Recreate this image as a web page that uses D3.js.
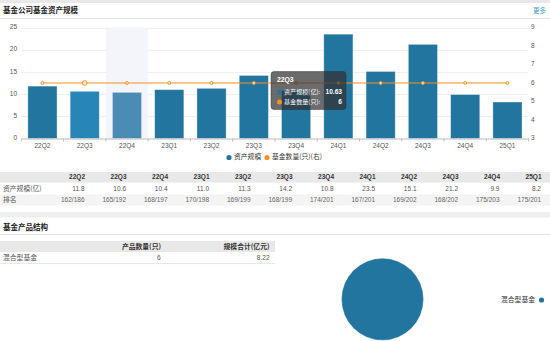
<!DOCTYPE html>
<html>
<head>
<meta charset="utf-8">
<script src="https://cdn.jsdelivr.net/npm/d3@7"></script>
<style>
  html, body { margin: 0; padding: 0; background: #fff; }
  svg { display: block; font-family: "Liberation Sans", "Noto Sans CJK SC", sans-serif; }
</style>
</head>
<body>
<svg id="chart" width="550" height="341"></svg>
<script>
// Quarterly fund-company data
const quarters = ["22Q2", "22Q3", "22Q4", "23Q1", "23Q2", "23Q3", "23Q4", "24Q1", "24Q2", "24Q3", "24Q4", "25Q1"];
const assetScale = [11.8, 10.63, 10.4, 11.0, 11.3, 14.2, 10.8, 23.5, 15.1, 21.2, 9.9, 8.22];
const fundCount = [6, 6, 6, 6, 6, 6, 6, 6, 6, 6, 6, 6];
const rankLabels = ["162/186", "165/192", "168/197", "170/198", "169/199", "168/199", "174/201", "167/201", "169/202", "168/202", "175/203", "175/201"];
const leftTicks = [0, 5, 10, 15, 20, 25];
const rightTicks = [3, 4, 5, 6, 7, 8, 9];

// Product structure
const productTypes = ["混合型基金"];
const productCounts = [6];
const productTotals = [8.22];

const BLUE = "#22759f";
const ORANGE = "#f5921e";
const CJK = "'Noto Sans CJK SC', 'Liberation Sans', sans-serif";

const svg = d3.select("#chart");

// page chrome
svg.append("rect").attr("x", 0).attr("y", 0).attr("width", 550).attr("height", 3).attr("fill", "#e8e8e8");
svg.append("text").attr("x", 3).attr("y", 11).attr("dominant-baseline", "middle")
  .attr("font-family", CJK).attr("font-size", 7.5).attr("font-weight", "bold").attr("fill", "#222")
  .text("基金公司基金资产规模");
svg.append("text").attr("x", 546).attr("y", 11).attr("dominant-baseline", "middle").attr("text-anchor", "end")
  .attr("font-family", CJK).attr("font-size", 6.5).attr("fill", "#3a9cc8").text("更多");
svg.append("line").attr("x1", 0).attr("x2", 550).attr("y1", 18.5).attr("y2", 18.5).attr("stroke", "#e3e3e3");

// scales
const x = d3.scaleBand().domain(quarters).range([21.3, 528.6]).paddingInner(0.31).paddingOuter(0.155);
const yL = d3.scaleLinear().domain([0, 25]).range([138.5, 27.5]);
const yR = d3.scaleLinear().domain([3, 9]).range([138.5, 27.5]);

const plot = svg.append("g");

// horizontal grid
plot.selectAll("line.grid").data(leftTicks.slice(1)).join("line")
  .attr("x1", 21.3).attr("x2", 528.6)
  .attr("y1", d => Math.round(yL(d)) + 0.5).attr("y2", d => Math.round(yL(d)) + 0.5)
  .attr("stroke", "#f0f0f0");

// axis pointer shadow
const step = x.step();
plot.append("rect")
  .attr("x", x("22Q4") + x.bandwidth() / 2 - step / 2).attr("y", yL(25))
  .attr("width", step).attr("height", yL(0) - yL(25))
  .attr("fill", "#f3f5fb");

// bars
const barColor = q => q === "22Q3" ? "#2885b7" : q === "22Q4" ? "#4a8cb4" : BLUE;
plot.selectAll("rect.bar").data(quarters.map((q, i) => ({ q, v: assetScale[i] }))).join("rect")
  .attr("x", d => x(d.q)).attr("width", x.bandwidth())
  .attr("y", d => yL(d.v)).attr("height", d => yL(0) - yL(d.v))
  .attr("fill", d => barColor(d.q))
  .attr("stroke", "rgba(255,255,255,0.45)").attr("stroke-width", 0.8);

// x axis
const xAxis = d3.axisBottom(x).tickSize(0).tickPadding(5);
const gx = plot.append("g").attr("transform", `translate(0,${yL(0)})`).call(xAxis);
gx.select(".domain").attr("stroke", "#bbb");
gx.selectAll("text").attr("font-size", 6.5).attr("fill", "#555");
// category boundary ticks
plot.selectAll("line.xtick").data(d3.range(quarters.length + 1)).join("line")
  .attr("x1", i => 21.3 + i * step).attr("x2", i => 21.3 + i * step)
  .attr("y1", yL(0)).attr("y2", yL(0) + 3).attr("stroke", "#bbb");

// left axis labels
plot.selectAll("text.yl").data(leftTicks).join("text")
  .attr("x", 17).attr("y", d => yL(d)).attr("text-anchor", "end").attr("dominant-baseline", "middle")
  .attr("font-size", 6.5).attr("fill", "#555").text(d => d);
// right axis labels
plot.selectAll("text.yr").data(rightTicks).join("text")
  .attr("x", 531).attr("y", d => yR(d)).attr("dominant-baseline", "middle")
  .attr("font-size", 6.5).attr("fill", "#555").text(d => d);

// fund-count line
const cx = q => x(q) + x.bandwidth() / 2;
const line = d3.line().x((d, i) => cx(quarters[i])).y(d => yR(d));
plot.append("path").datum(fundCount).attr("d", line)
  .attr("fill", "none").attr("stroke", ORANGE).attr("stroke-width", 1.2);
plot.selectAll("circle.pt").data(fundCount).join("circle")
  .attr("cx", (d, i) => cx(quarters[i])).attr("cy", d => yR(d))
  .attr("r", (d, i) => quarters[i] === "22Q3" ? 2.4 : 1.5)
  .attr("fill", "#fbe3c4").attr("stroke", ORANGE).attr("stroke-width", 0.9);

// tooltip
const tip = svg.append("g").attr("transform", "translate(271,71.5)");
tip.append("rect").attr("width", 75).attr("height", 38).attr("rx", 3)
  .attr("fill", "rgba(50,50,50,0.72)").attr("stroke", "rgba(40,40,40,0.8)").attr("stroke-width", 0.5);
tip.append("text").attr("x", 6).attr("y", 9).attr("dominant-baseline", "middle")
  .attr("font-size", 6.8).attr("font-weight", "bold").attr("fill", "#fff").text("22Q3");
const tipRows = [
  { color: BLUE, label: "资产规模(亿):", value: assetScale[1].toFixed(2) },
  { color: ORANGE, label: "基金数量(只):", value: String(fundCount[1]) }
];
tipRows.forEach((r, i) => {
  const yy = 20.5 + i * 10;
  tip.append("circle").attr("cx", 8.5).attr("cy", yy).attr("r", 2.5).attr("fill", r.color);
  tip.append("text").attr("x", 13).attr("y", yy).attr("dominant-baseline", "middle")
    .attr("font-family", CJK).attr("font-size", 6.1).attr("fill", "#fff").text(r.label);
  tip.append("text").attr("x", 71).attr("y", yy).attr("dominant-baseline", "middle").attr("text-anchor", "end")
    .attr("font-size", 6.6).attr("font-weight", "bold").attr("fill", "#fff").text(r.value);
});

// legend
const legend = [
  { color: BLUE, label: "资产规模", x: 229 },
  { color: ORANGE, label: "基金数量(只)(右)", x: 267 }
];
legend.forEach(l => {
  svg.append("circle").attr("cx", l.x).attr("cy", 157.5).attr("r", 2.6).attr("fill", l.color);
  svg.append("text").attr("x", l.x + 5).attr("y", 157.5).attr("dominant-baseline", "middle")
    .attr("font-family", CJK).attr("font-size", 6.8).attr("fill", "#333").text(l.label);
});

// quarterly table
const colRight = i => 85 + i * 41.5;
svg.append("rect").attr("x", 0).attr("y", 172).attr("width", 550).attr("height", 10.5).attr("fill", "#e8e8e8");
svg.append("rect").attr("x", 0).attr("y", 194.5).attr("width", 550).attr("height", 11).attr("fill", "#f4f4f4");
svg.selectAll("text.th").data(quarters).join("text")
  .attr("x", (d, i) => colRight(i)).attr("y", 177.3).attr("text-anchor", "end").attr("dominant-baseline", "middle")
  .attr("font-size", 6.5).attr("font-weight", "bold").attr("fill", "#333").text(d => d);
svg.append("text").attr("x", 3).attr("y", 189).attr("dominant-baseline", "middle")
  .attr("font-family", CJK).attr("font-size", 6.8).attr("fill", "#555").text("资产规模(亿)");
svg.selectAll("text.tv").data(assetScale).join("text")
  .attr("x", (d, i) => colRight(i) - 0.5).attr("y", 189).attr("text-anchor", "end").attr("dominant-baseline", "middle")
  .attr("font-size", 6.5).attr("fill", "#555").text(d => d.toFixed(1));
svg.append("text").attr("x", 3).attr("y", 200).attr("dominant-baseline", "middle")
  .attr("font-family", CJK).attr("font-size", 6.8).attr("fill", "#555").text("排名");
svg.selectAll("text.tr").data(rankLabels).join("text")
  .attr("x", (d, i) => colRight(i) - 0.5).attr("y", 200).attr("text-anchor", "end").attr("dominant-baseline", "middle")
  .attr("font-size", 6.5).attr("fill", "#666").text(d => d);

// section break
svg.append("rect").attr("x", 0).attr("y", 212).attr("width", 550).attr("height", 5.5).attr("fill", "#eeeeee");
svg.append("text").attr("x", 3).attr("y", 227.5).attr("dominant-baseline", "middle")
  .attr("font-family", CJK).attr("font-size", 7.5).attr("font-weight", "bold").attr("fill", "#222")
  .text("基金产品结构");
svg.append("line").attr("x1", 0).attr("x2", 550).attr("y1", 234.5).attr("y2", 234.5).attr("stroke", "#e3e3e3");

// product table
svg.append("rect").attr("x", 0).attr("y", 241).attr("width", 275).attr("height", 11).attr("fill", "#e8e8e8");
svg.append("text").attr("x", 161).attr("y", 246.7).attr("text-anchor", "end").attr("dominant-baseline", "middle")
  .attr("font-family", CJK).attr("font-size", 6.8).attr("font-weight", "bold").attr("fill", "#333").text("产品数量(只)");
svg.append("text").attr("x", 269.5).attr("y", 246.7).attr("text-anchor", "end").attr("dominant-baseline", "middle")
  .attr("font-family", CJK).attr("font-size", 6.8).attr("font-weight", "bold").attr("fill", "#333").text("规模合计(亿元)");
productTypes.forEach((t, i) => {
  const yy = 258.3 + i * 11;
  svg.append("text").attr("x", 3).attr("y", yy).attr("dominant-baseline", "middle")
    .attr("font-family", CJK).attr("font-size", 6.8).attr("fill", "#555").text(t);
  svg.append("text").attr("x", 160.5).attr("y", yy).attr("text-anchor", "end").attr("dominant-baseline", "middle")
    .attr("font-size", 6.5).attr("fill", "#555").text(productCounts[i]);
  svg.append("text").attr("x", 269.5).attr("y", yy).attr("text-anchor", "end").attr("dominant-baseline", "middle")
    .attr("font-size", 6.5).attr("fill", "#555").text(productTotals[i].toFixed(2));
  svg.append("line").attr("x1", 0).attr("x2", 275).attr("y1", yy + 5.3).attr("y2", yy + 5.3).attr("stroke", "#e6e6e6");
});

// product pie
const pie = d3.pie().sort(null)(productTotals);
const arc = d3.arc().innerRadius(0).outerRadius(41);
svg.append("g").attr("transform", "translate(382.5,299.3)")
  .selectAll("path").data(pie).join("path")
  .attr("d", arc).attr("fill", BLUE)
  .attr("stroke", "rgba(255,255,255,0.5)").attr("stroke-width", 0.6);
productTypes.forEach((t, i) => {
  svg.append("text").attr("x", 535).attr("y", 300 + i * 10).attr("text-anchor", "end").attr("dominant-baseline", "middle")
    .attr("font-family", CJK).attr("font-size", 6.8).attr("fill", "#333").text(t);
  svg.append("circle").attr("cx", 541.5).attr("cy", 300 + i * 10).attr("r", 2.6).attr("fill", BLUE);
});
</script>
</body>
</html>
